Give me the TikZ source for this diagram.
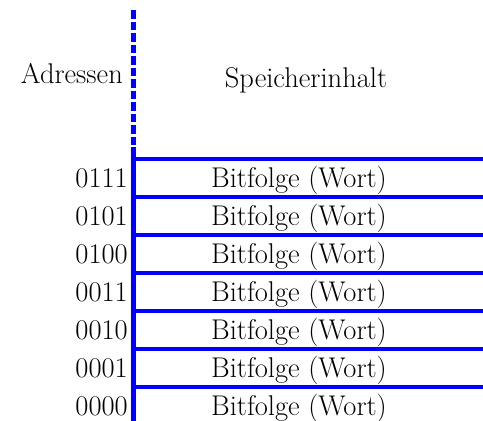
\documentclass[tikz,border=0pt]{standalone}
\begin{document}
\begin{tikzpicture}[x=1pt,y=1pt,
  bl/.style={draw=blue,line width=4.3pt},
  txt/.style={font=\fontsize{28.5}{32}\selectfont,inner sep=0pt},
  addr/.style={txt,anchor=base east},
  cont/.style={txt,anchor=base}]
\useasboundingbox (0,0) rectangle (483,-421);
% dashed upper part
\draw[bl,dash pattern=on 8.5pt off 3pt] (133.5,-10) -- (133.5,-150);
% solid vertical line
\draw[bl] (133.5,-147) -- (133.5,-423);
% horizontal lines
\foreach \y in {159,197,235,273,311,349,387}
  \draw[bl] (131.5,-\y) -- (485,-\y);
% headers
\node[txt,anchor=base east] (hadr) at (123,-83) {Adressen};
\node[txt,anchor=base] (hsp) at (306,-87) {Speicherinhalt};
% rows
\foreach \a [count=\i from 0] in {0111,0101,0100,0011,0010,0001,0000}{
  \pgfmathsetmacro{\yb}{-(159+38*\i+28)}
  \node[addr] (a\i) at (128,\yb) {\a};
  \node[cont] (c\i) at (299,\yb) {Bitfolge (Wort)};
}
\end{tikzpicture}
\end{document}
